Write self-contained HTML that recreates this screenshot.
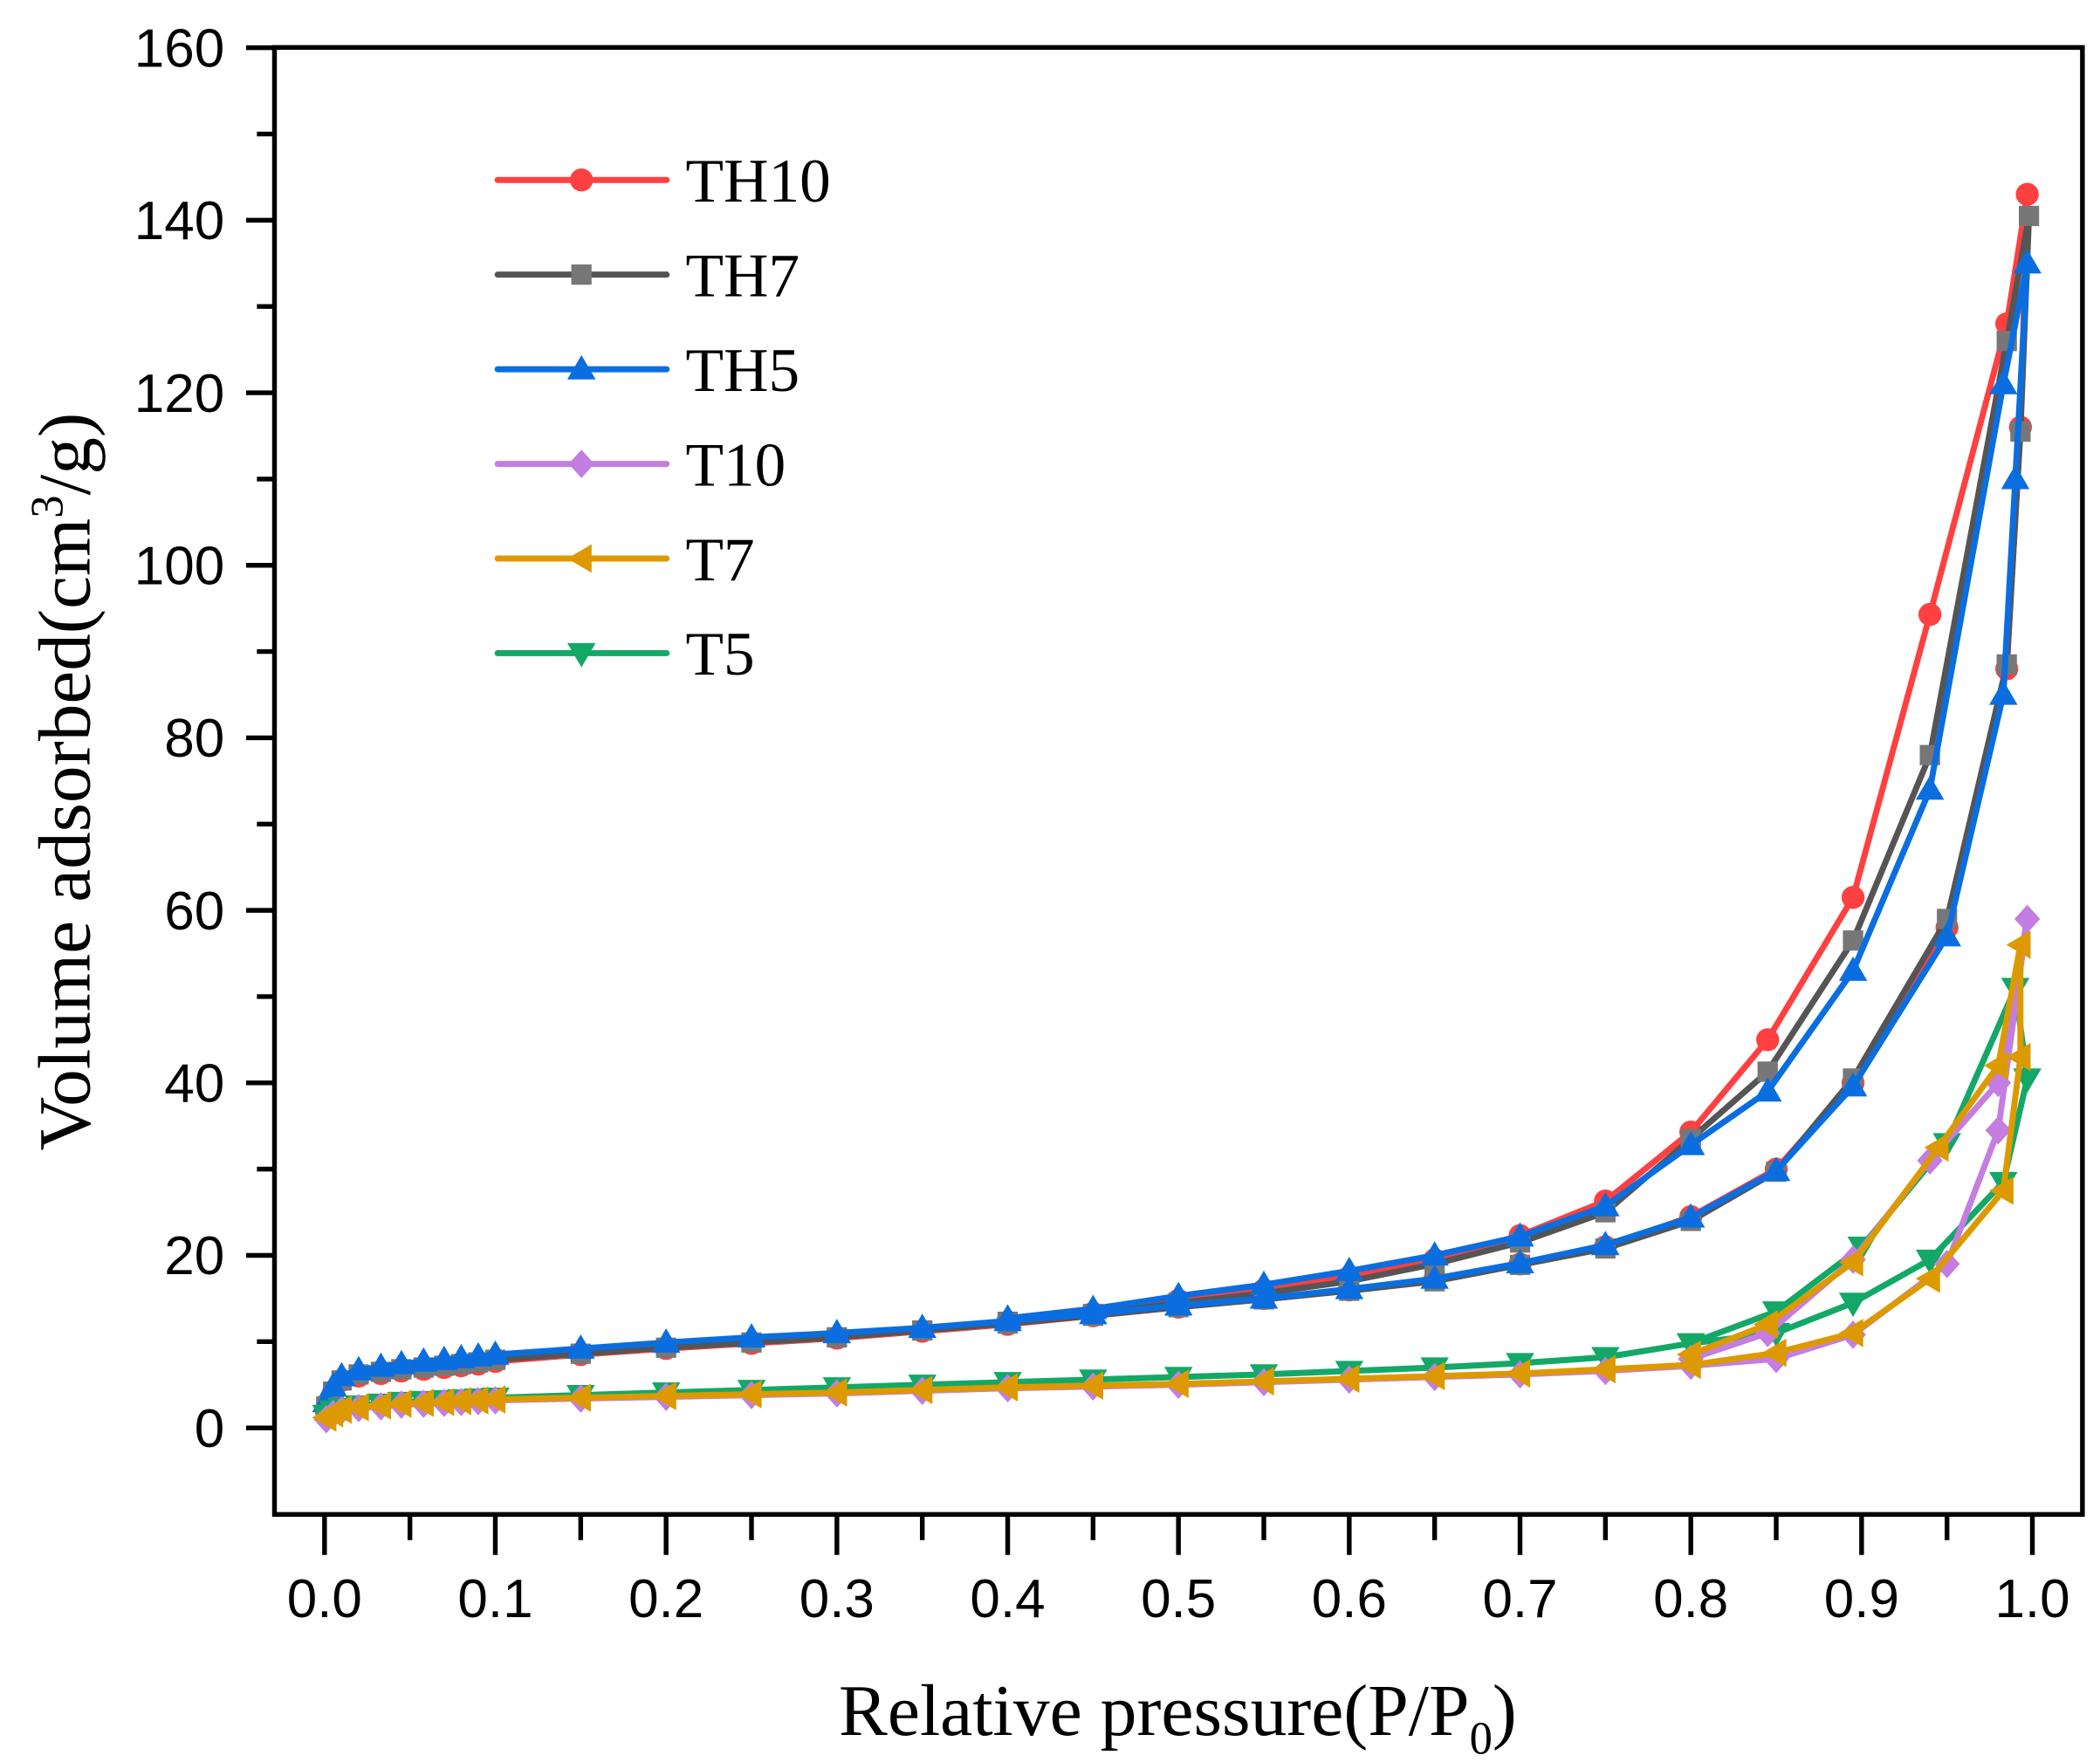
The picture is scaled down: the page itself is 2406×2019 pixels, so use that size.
<!DOCTYPE html>
<html><head><meta charset="utf-8"><style>html,body{margin:0;padding:0;background:#fff}svg{display:block}</style></head>
<body>
<svg id="s" width="2406" height="2019" viewBox="0 0 1553 1303" xmlns="http://www.w3.org/2000/svg">
<rect x="0" y="0" width="1553" height="1303" fill="#fff"/>
<g id="plot"></g>
<rect x="203" y="35" width="1337" height="1085" fill="none" stroke="#000" stroke-width="3.5"/>
<g id="axes" font-family="'Liberation Sans',sans-serif" font-size="40" fill="#000"></g>
<text x="871" y="1283" text-anchor="middle" font-family="'Liberation Serif',serif" font-size="54">Relative pressure(P/P<tspan font-size="34" dy="14">0</tspan><tspan dy="-14">)</tspan></text>
<text transform="translate(66,578) rotate(-90)" text-anchor="middle" font-family="'Liberation Serif',serif" font-size="55">Volume adsorbed(cm<tspan font-size="34" dy="-20">3</tspan><tspan dy="20">/g)</tspan></text>
<g id="leg" font-family="'Liberation Serif',serif" font-size="46"></g>
</svg>
<script>
var NS="http://www.w3.org/2000/svg";
function X(p){return 240+p*1263}
function Y(v){return 1056-v*6.38}
function el(t,a,par){var e=document.createElementNS(NS,t);for(var k in a)e.setAttribute(k,a[k]);par.appendChild(e);return e}
var ax=document.getElementById('axes');
for(var v=0;v<=160;v+=10){var y=Y(v);var maj=v%20==0;el('line',{x1:maj?182:190,x2:203,y1:y,y2:y,stroke:'#000','stroke-width':3.5},ax);
 if(maj){var t=el('text',{x:166,y:y+14,'text-anchor':'end'},ax);t.textContent=v;}}
for(var i=0;i<=20;i++){var p=i*0.05;var x=X(p);var maj=i%2==0;el('line',{x1:x,x2:x,y1:1120,y2:maj?1150:1139,stroke:'#000','stroke-width':3.5},ax);
 if(maj){var t=el('text',{x:x,y:1196,'text-anchor':'middle'},ax);t.textContent=(p).toFixed(1);}}
var low=[0.001,0.005,0.01,0.02,0.033,0.045,0.058,0.07,0.08,0.09,0.1];
function lowSeries(a,b){return low.map(function(p,i){return [p,a[i]]})}
var mid=[0.15,0.2,0.25,0.3,0.35,0.4,0.45,0.5,0.55,0.6,0.65,0.7,0.75,0.8];
var S=[
{n:'TH10',c:'#ff4040',m:'o',d:lowSeries([2,4,5.5,6,6.3,6.6,6.8,7,7.2,7.4,7.7]).concat(mid.map(function(p,i){return [p,[8.5,9.2,9.8,10.4,11.2,12,13,14,15,16,17.2,19,21,24.5][i]]})).concat([[0.85,30],[0.895,40],[0.95,58],[0.985,88],[0.993,116],[0.997,143],[0.985,128],[0.94,94.3],[0.895,61.5],[0.845,45],[0.8,34.3],[0.75,26.3],[0.7,22.3],[0.65,19.5],[0.6,17.5],[0.55,16],[0.5,14.8],[0.45,13.3],[0.4,12.3]])},
{n:'TH7',c:'#777777',lc:'#555',m:'s',d:lowSeries([2.5,4.2,5.5,6.2,6.5,6.8,7,7.2,7.4,7.6,7.9]).concat(mid.map(function(p,i){return [p,[8.6,9.3,9.9,10.5,11.3,12.1,13,14,14.9,15.9,17,18.9,20.8,24][i]]})).concat([[0.85,29.7],[0.895,40.5],[0.95,59],[0.985,88.5],[0.993,115.5],[0.998,140.5],[0.985,126],[0.94,78],[0.895,56.5],[0.845,41.3],[0.8,33.5],[0.75,25],[0.7,21.5],[0.65,19],[0.6,17],[0.55,15.6],[0.5,14.5],[0.45,13.2],[0.4,12.3]])},
{n:'TH5',c:'#0a6ee0',m:'^',d:lowSeries([3,4.8,6,6.7,7.1,7.4,7.7,7.9,8.1,8.3,8.5]).concat(mid.map(function(p,i){return [p,[9.2,9.9,10.5,11,11.6,12.4,13.2,14.2,15,16.1,17.3,19.1,21.2,24.4][i]]})).concat([[0.85,29.8],[0.895,39.6],[0.95,57],[0.983,85],[0.99,110],[0.997,135],[0.983,121],[0.94,74],[0.895,53],[0.845,39],[0.8,32.8],[0.75,25.7],[0.7,22.2],[0.65,20],[0.6,18.2],[0.55,16.6],[0.5,15.3],[0.45,13.8],[0.4,12.7]])},
{n:'T5',c:'#13a868',m:'v',d:lowSeries([1.5,2,2.3,2.6,2.8,3,3.1,3.2,3.3,3.4,3.5]).concat(mid.map(function(p,i){return [p,[3.8,4.1,4.4,4.7,5,5.3,5.6,5.9,6.2,6.6,7,7.5,8.2,9.8][i]]})).concat([[0.85,11],[0.895,14.5],[0.94,19.5],[0.983,28.5],[0.997,40.5],[0.99,51],[0.95,33],[0.9,21],[0.85,13.5],[0.8,9.8]])},
{n:'T10',c:'#c47de0',m:'d',d:lowSeries([1,1.6,2,2.3,2.5,2.7,2.8,2.9,3,3.1,3.2]).concat(mid.map(function(p,i){return [p,[3.4,3.6,3.8,4,4.3,4.6,4.8,5,5.3,5.6,5.9,6.2,6.6,7.2][i]]})).concat([[0.85,8],[0.895,10.8],[0.95,19],[0.98,34.5],[0.997,59],[0.98,40],[0.94,31],[0.895,19.5],[0.845,11],[0.8,8]])},
{n:'T7',c:'#dd9a00',m:'<',d:lowSeries([1.2,1.7,2.1,2.4,2.6,2.8,2.9,3,3.1,3.2,3.3]).concat(mid.map(function(p,i){return [p,[3.5,3.7,3.9,4.1,4.4,4.7,4.9,5.1,5.4,5.7,6,6.3,6.8,7.3][i]]})).concat([[0.85,8.7],[0.895,11],[0.94,17.3],[0.983,27.5],[0.993,43],[0.993,56],[0.98,42],[0.945,32.5],[0.895,19.2],[0.845,12],[0.8,8.5]])}
];
function marker(m,x,y,c,g){var r=9.5;
 if(m=='o')el('circle',{cx:x,cy:y,r:8.5,fill:c},g);
 else if(m=='s')el('rect',{x:x-7.5,y:y-7.5,width:15,height:15,fill:c},g);
 else{var pts;
  if(m=='^')pts=[[x,y-r-1],[x+r+1,y+r-2],[x-r-1,y+r-2]];
  else if(m=='v')pts=[[x,y+r+1],[x+r+1,y-r+2],[x-r-1,y-r+2]];
  else if(m=='<')pts=[[x-r-1,y],[x+r-2,y-r-1],[x+r-2,y+r+1]];
  else pts=[[x,y-r-1],[x+r,y],[x,y+r+1],[x-r,y]];
  el('polygon',{points:pts.map(function(p){return p.join(',')}).join(' '),fill:c},g);}
}
var pl=document.getElementById('plot');
S.forEach(function(s){var g=el('g',{},pl);
 el('polyline',{points:s.d.map(function(p){return X(p[0])+','+Y(p[1])}).join(' '),fill:'none',stroke:s.lc||s.c,'stroke-width':4.5,'stroke-linejoin':'round'},g);
 s.d.forEach(function(p){marker(s.m,X(p[0]),Y(p[1]),s.c,g)});});
var lg=document.getElementById('leg');
var order=['TH10','TH7','TH5','T10','T7','T5'];
order.forEach(function(n,i){var s=S.filter(function(q){return q.n==n})[0];var y=133+i*70;
 el('line',{x1:368,x2:493,y1:y,y2:y,stroke:s.lc||s.c,'stroke-width':4.5,'stroke-linecap':'round'},lg);
 marker(s.m,430,y,s.c,lg);
 var t=el('text',{x:507,y:y+16},lg);t.textContent=n;});
</script>
</body></html>
